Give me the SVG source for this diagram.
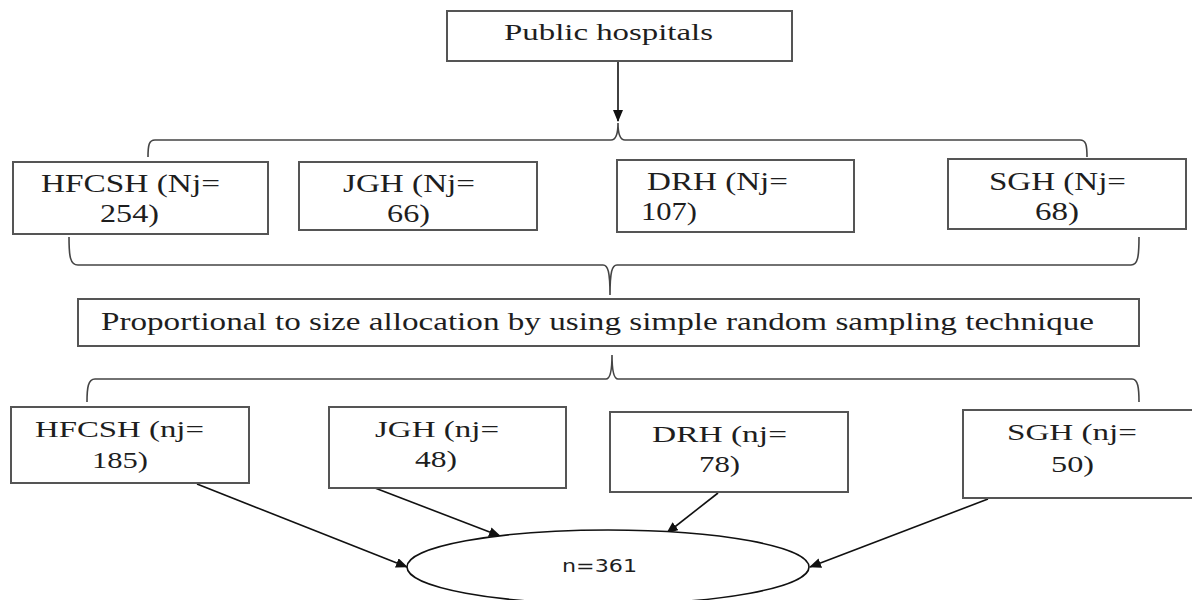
<svg xmlns="http://www.w3.org/2000/svg" width="1192" height="600" viewBox="0 0 1192 600">
<style>
.box{fill:#fff;stroke:#555;stroke-width:2}
.t{font-family:'Liberation Serif','Times New Roman',serif;fill:#1e1e1e}
.brace{fill:none;stroke:#444;stroke-width:1.6}
.arr{fill:none;stroke:#111;stroke-width:1.6;marker-end:url(#ah)}
</style>
<defs>
<marker id="ah" viewBox="0 0 12 10" refX="11" refY="5" markerWidth="12" markerHeight="10" markerUnits="userSpaceOnUse" orient="auto">
<path d="M0,0 L12,5 L0,10 Z" fill="#111"/>
</marker>
</defs>
<rect width="1192" height="600" fill="#fff"/>

<g id="connectors">
<line class="arr" x1="618" y1="61" x2="618" y2="121"/>
<path class="brace" d="M148,157 C148,145 149,140 155,140 L611,140 C616,140 618,135 618,123 C618,135 620,140 625,140 L1080,140 C1086,140 1087,145 1087,157"/>
<path class="brace" d="M69,237 C69,256 70,265 78,265 L603,265 C608,265 610,272 610,295 C610,272 612,265 617,265 L1131,265 C1138,265 1139,256 1139,237"/>
<path class="brace" d="M87,402 C87,388 88,379 95,379 L606,379 C610,379 612,372 612,355 C612,372 614,379 618,379 L1132,379 C1138,379 1139,388 1139,402"/>
<line class="arr" x1="197" y1="484" x2="407" y2="567"/>
<line class="arr" x1="375" y1="488" x2="500" y2="536"/>
<line class="arr" x1="718" y1="493" x2="667" y2="533"/>
<line class="arr" x1="988" y1="499" x2="810" y2="567"/>
</g>

<g id="public-hospitals">
<rect class="box" x="447" y="11" width="345" height="50"/>
<text class="t" x="504" y="40" font-size="23" textLength="209" lengthAdjust="spacingAndGlyphs">Public hospitals</text>
</g>

<g id="hfcsh-Nj">
<rect class="box" x="13" y="162" width="255" height="72"/>
<text class="t" x="41" y="192" font-size="25" textLength="179" lengthAdjust="spacingAndGlyphs">HFCSH (Nj=</text>
<text class="t" x="100" y="222" font-size="25" textLength="59" lengthAdjust="spacingAndGlyphs">254)</text>
</g>

<g id="jgh-Nj">
<rect class="box" x="299" y="162" width="238" height="68"/>
<text class="t" x="343" y="192" font-size="25" textLength="132" lengthAdjust="spacingAndGlyphs">JGH (Nj=</text>
<text class="t" x="387" y="222" font-size="25" textLength="43" lengthAdjust="spacingAndGlyphs">66)</text>
</g>

<g id="drh-Nj">
<rect class="box" x="617" y="160" width="237" height="72"/>
<text class="t" x="647" y="190" font-size="25" textLength="141" lengthAdjust="spacingAndGlyphs">DRH (Nj=</text>
<text class="t" x="641" y="220" font-size="25" textLength="56" lengthAdjust="spacingAndGlyphs">107)</text>
</g>

<g id="sgh-Nj">
<rect class="box" x="948" y="159" width="238" height="70"/>
<text class="t" x="989" y="190" font-size="25" textLength="137" lengthAdjust="spacingAndGlyphs">SGH (Nj=</text>
<text class="t" x="1035" y="220" font-size="25" textLength="44" lengthAdjust="spacingAndGlyphs">68)</text>
</g>

<g id="allocation">
<rect class="box" x="78" y="299" width="1061" height="47"/>
<text class="t" x="101" y="330" font-size="25" textLength="993" lengthAdjust="spacingAndGlyphs">Proportional to size allocation by using simple random sampling technique</text>
</g>

<g id="hfcsh-nj">
<rect class="box" x="11" y="407" width="238" height="76"/>
<text class="t" x="35" y="437" font-size="24" textLength="169" lengthAdjust="spacingAndGlyphs">HFCSH (nj=</text>
<text class="t" x="92" y="468" font-size="24" textLength="56" lengthAdjust="spacingAndGlyphs">185)</text>
</g>

<g id="jgh-nj">
<rect class="box" x="329" y="407" width="237" height="81"/>
<text class="t" x="375" y="437" font-size="24" textLength="124" lengthAdjust="spacingAndGlyphs">JGH (nj=</text>
<text class="t" x="415" y="467" font-size="24" textLength="42" lengthAdjust="spacingAndGlyphs">48)</text>
</g>

<g id="drh-nj">
<rect class="box" x="610" y="412" width="238" height="80"/>
<text class="t" x="652" y="442" font-size="24" textLength="135" lengthAdjust="spacingAndGlyphs">DRH (nj=</text>
<text class="t" x="699" y="472" font-size="24" textLength="41" lengthAdjust="spacingAndGlyphs">78)</text>
</g>

<g id="sgh-nj">
<rect class="box" x="963" y="410" width="236" height="88"/>
<text class="t" x="1007" y="440" font-size="24" textLength="130" lengthAdjust="spacingAndGlyphs">SGH (nj=</text>
<text class="t" x="1051" y="472" font-size="24" textLength="43" lengthAdjust="spacingAndGlyphs">50)</text>
</g>

<g id="total">
<ellipse cx="608" cy="567" rx="201" ry="37" fill="#fff" stroke="#111" stroke-width="1.6"/>
<text x="562" y="572" font-family="DejaVu Sans, sans-serif" font-size="17" fill="#1e1e1e" textLength="75" lengthAdjust="spacingAndGlyphs">n=361</text>
</g>
</svg>
